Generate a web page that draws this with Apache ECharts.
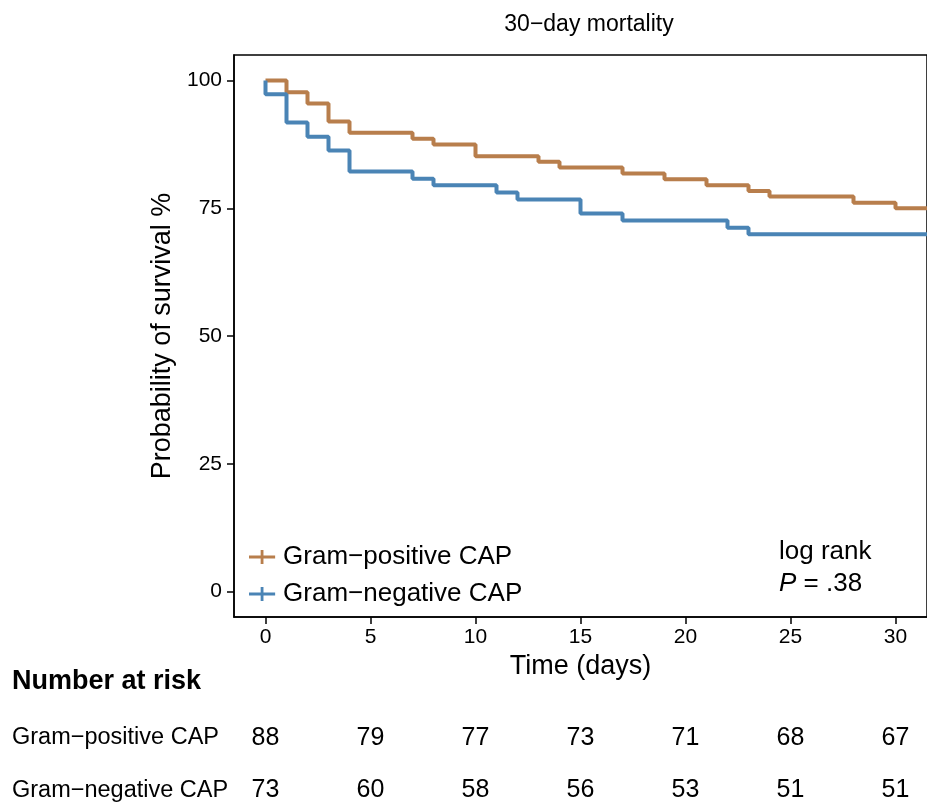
<!DOCTYPE html>
<html>
<head>
<meta charset="utf-8">
<script src="https://cdn.jsdelivr.net/npm/echarts@6/dist/echarts.min.js"></script>
<style>
  body { margin: 0; background: #fff; }
  #km { width: 927px; height: 808px; }
</style>
</head>
<body>
<div id="km"></div>
<script>
  var groups = ['Gram−positive CAP', 'Gram−negative CAP'];
  var colors = ['#B87E4C', '#4A84B5'];

  // Kaplan-Meier steps (survival in %)
  var posTimes = [0, 1, 2, 3, 4, 7, 8, 10, 13, 14, 17, 19, 21, 23, 24, 28, 30, 31.5];
  var posSurv = [100, 97.7, 95.5, 92.0, 89.8, 88.6, 87.5, 85.2, 84.1, 83.0, 81.8, 80.7, 79.5, 78.4, 77.3, 76.1, 75.0, 75.0];
  var negTimes = [0, 0, 1, 2, 3, 4, 7, 8, 11, 12, 15, 17, 22, 23, 31.5];
  var negSurv = [100, 97.3, 91.8, 89.0, 86.3, 82.2, 80.8, 79.5, 78.1, 76.7, 74.0, 72.6, 71.2, 69.9, 69.9];

  // number at risk table
  var riskTimes = [0, 5, 10, 15, 20, 25, 30];
  var posRisk = [88, 79, 77, 73, 71, 68, 67];
  var negRisk = [73, 60, 58, 56, 53, 51, 51];

  var xTicks = [0, 5, 10, 15, 20, 25, 30];
  var yTicks = [0, 25, 50, 75, 100];
  var rowTicks = [0, 1];

  function zip(xs, ys) {
    return xs.map(function (x, i) { return [x, ys[i]]; });
  }

  var riskData = [];
  riskTimes.forEach(function (t, i) {
    riskData.push([t, 0, posRisk[i]]);
    riskData.push([t, 1, negRisk[i]]);
  });

  var font = 'Liberation Sans, Arial, sans-serif';
  var chart = echarts.init(document.getElementById('km'));

  var option = {
    animation: false,
    backgroundColor: '#fff',
    title: [
      { text: '30−day mortality', left: 584, top: 8, textAlign: 'center',
        textStyle: { fontFamily: font, fontSize: 23, fontWeight: 'normal', color: '#000' } },
      { text: 'Number at risk', left: 12, top: 668, padding: 0,
        textStyle: { fontFamily: font, fontSize: 27, fontWeight: 'bold', color: '#000' } }
    ],
    legend: {
      orient: 'vertical', left: 244, top: 539, itemGap: 11,
      itemWidth: 28, itemHeight: 14,
      data: groups.map(function (g) {
        return { name: g, icon: 'path://M0,6 L28,6 L28,9 L0,9 Z M12.5,0 L15.5,0 L15.5,15 L12.5,15 Z' };
      }),
      textStyle: { fontFamily: font, fontSize: 26, color: '#000', padding: [0, 0, 0, 2] }
    },
    grid: [
      { left: 234, right: -1, top: 55, bottom: 191, show: true, borderColor: '#000', borderWidth: 1.5 },
      { left: 234, right: -1, top: 700, height: 100 }
    ],
    xAxis: [
      {
        type: 'value', gridIndex: 0, min: -1.5, max: 31.5,
        name: 'Time (days)', nameLocation: 'middle', nameGap: 34,
        nameTextStyle: { fontFamily: font, fontSize: 27, color: '#000' },
        axisLine: { show: true, onZero: false, lineStyle: { color: '#000', width: 1.5 } },
        axisTick: { show: true, customValues: xTicks, length: 7, lineStyle: { color: '#000', width: 1.5 } },
        axisLabel: { customValues: xTicks, margin: 10, fontFamily: font, fontSize: 21, color: '#000' },
        splitLine: { show: false }
      },
      {
        type: 'value', gridIndex: 1, min: -1.5, max: 31.5, show: false
      }
    ],
    yAxis: [
      {
        type: 'value', gridIndex: 0, min: -5, max: 105,
        name: 'Probability of survival %', nameLocation: 'middle', nameGap: 57,
        nameTextStyle: { fontFamily: font, fontSize: 27, color: '#000' },
        axisLine: { show: true, onZero: false, lineStyle: { color: '#000', width: 1.5 } },
        axisTick: { show: true, customValues: yTicks, length: 7, lineStyle: { color: '#000', width: 1.5 } },
        axisLabel: { customValues: yTicks, margin: 12, fontFamily: font, fontSize: 21, color: '#000' },
        splitLine: { show: false }
      },
      {
        // rows of the risk table: 0 = positive, 1 = negative
        type: 'value', gridIndex: 1, inverse: true, min: -0.731, max: 1.192,
        axisLine: { show: false }, axisTick: { show: false },
        axisLabel: {
          customValues: rowTicks, align: 'left', margin: 222,
          fontFamily: font, fontSize: 23.5, color: '#000',
          formatter: function (v) { return groups[v]; }
        },
        splitLine: { show: false }
      }
    ],
    graphic: [
      {
        type: 'text', left: 779, top: 536,
        style: {
          text: 'log rank\n{i|P} = .38',
          fontFamily: font, fontSize: 26, fill: '#000', lineHeight: 32,
          rich: { i: { fontStyle: 'italic', fontFamily: font, fontSize: 26, fill: '#000' } }
        }
      }
    ],
    series: [
      {
        name: groups[0], type: 'line', step: 'end', showSymbol: false,
        xAxisIndex: 0, yAxisIndex: 0, color: colors[0],
        lineStyle: { width: 4, color: colors[0] },
        data: zip(posTimes, posSurv)
      },
      {
        name: groups[1], type: 'line', step: 'end', showSymbol: false,
        xAxisIndex: 0, yAxisIndex: 0, color: colors[1],
        lineStyle: { width: 4, color: colors[1] },
        data: zip(negTimes, negSurv)
      },
      {
        name: 'risk', type: 'scatter', xAxisIndex: 1, yAxisIndex: 1,
        symbolSize: 1, itemStyle: { color: '#fff', opacity: 1 },
        label: {
          show: true, position: 'inside', fontFamily: font, fontSize: 25, color: '#000',
          textBorderWidth: 0, opacity: 1,
          formatter: function (p) { return p.value[2]; }
        },
        data: riskData
      }
    ]
  };

  chart.setOption(option);
</script>
</body>
</html>
